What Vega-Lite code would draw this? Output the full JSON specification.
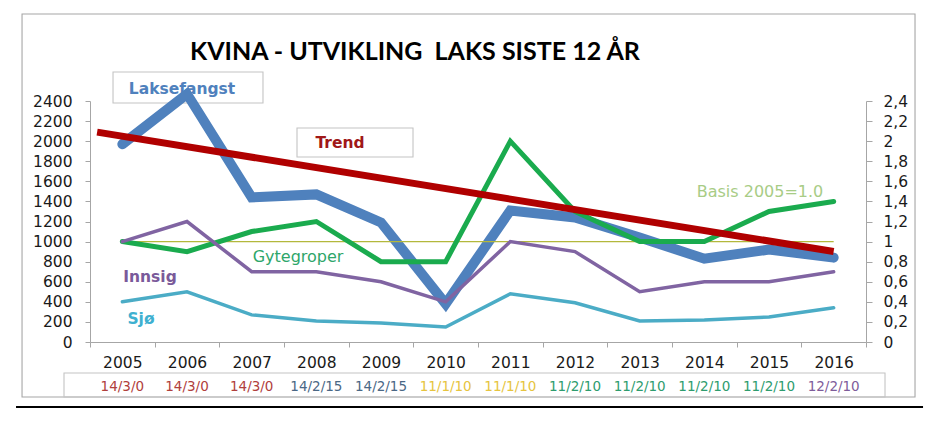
{
  "$schema": "https://vega.github.io/schema/vega-lite/v6.json",
  "width": 776,
  "height": 241,
  "autosize": {"type": "none"},
  "padding": {"left": 90, "top": 101, "right": 79, "bottom": 88},
  "background": "white",
  "title": {"text": "KVINA - UTVIKLING\u00a0 LAKS SISTE 12 ÅR", "font": "Lato", "fontSize": 25, "fontWeight": "bold", "color": "#000000", "anchor": "start", "frame": "group", "dx": 100, "offset": -52},
  "config": {
    "view": {"stroke": null},
    "axis": {"domainColor": "#a6a6a6", "tickColor": "#a6a6a6", "labelColor": "#1a1a1a", "labelFont": "DejaVu Sans", "labelFontSize": 15.5, "grid": false, "tickSize": 5, "labelOverlap": false}
  },
  "datasets": {
    "kvina": [
      {"year": 2005, "Laksefangst": 1970, "Gytegroper": 1.0, "Innsig": 1.0, "Sjo": 0.40, "Basis": 1, "kode": "14/3/0"},
      {"year": 2006, "Laksefangst": 2470, "Gytegroper": 0.9, "Innsig": 1.2, "Sjo": 0.50, "Basis": 1, "kode": "14/3/0"},
      {"year": 2007, "Laksefangst": 1440, "Gytegroper": 1.1, "Innsig": 0.7, "Sjo": 0.27, "Basis": 1, "kode": "14/3/0"},
      {"year": 2008, "Laksefangst": 1470, "Gytegroper": 1.2, "Innsig": 0.7, "Sjo": 0.21, "Basis": 1, "kode": "14/2/15"},
      {"year": 2009, "Laksefangst": 1190, "Gytegroper": 0.8, "Innsig": 0.6, "Sjo": 0.19, "Basis": 1, "kode": "14/2/15"},
      {"year": 2010, "Laksefangst": 380, "Gytegroper": 0.8, "Innsig": 0.4, "Sjo": 0.15, "Basis": 1, "kode": "11/1/10"},
      {"year": 2011, "Laksefangst": 1310, "Gytegroper": 2.0, "Innsig": 1.0, "Sjo": 0.48, "Basis": 1, "kode": "11/1/10"},
      {"year": 2012, "Laksefangst": 1240, "Gytegroper": 1.3, "Innsig": 0.9, "Sjo": 0.39, "Basis": 1, "kode": "11/2/10"},
      {"year": 2013, "Laksefangst": 1040, "Gytegroper": 1.0, "Innsig": 0.5, "Sjo": 0.21, "Basis": 1, "kode": "11/2/10"},
      {"year": 2014, "Laksefangst": 830, "Gytegroper": 1.0, "Innsig": 0.6, "Sjo": 0.22, "Basis": 1, "kode": "11/2/10"},
      {"year": 2015, "Laksefangst": 920, "Gytegroper": 1.3, "Innsig": 0.6, "Sjo": 0.25, "Basis": 1, "kode": "11/2/10"},
      {"year": 2016, "Laksefangst": 840, "Gytegroper": 1.4, "Innsig": 0.7, "Sjo": 0.34, "Basis": 1, "kode": "12/2/10"}
    ],
    "trend": [
      {"year": 2004.61, "Trend": 2090},
      {"year": 2016, "Trend": 901}
    ],
    "notesBold": [
      {"label": "Laksefangst", "year": 2005.923, "value": 2520},
      {"label": "Trend", "year": 2008.366, "value": 1982},
      {"label": "Innsig", "year": 2005.428, "value": 647},
      {"label": "Sjø", "year": 2005.289, "value": 229}
    ],
    "notesPlain": [
      {"label": "Basis 2005=1.0", "year": 2014.861, "value": 1494},
      {"label": "Gytegroper", "year": 2007.717, "value": 846}
    ],
    "boxes": [
      {"box": "chart", "x0": 2003.449, "x1": 2017.258, "y0": 3266, "y1": -548},
      {"box": "table", "x0": 2004.098, "x1": 2016.794, "y0": -309, "y1": -548},
      {"box": "Laksefangst", "x0": 2004.856, "x1": 2007.175, "y0": 2689, "y1": 2380},
      {"box": "Trend", "x0": 2007.701, "x1": 2009.495, "y0": 2131, "y1": 1842}
    ],
    "underline": [
      {"x0": 2003.356, "x1": 2017.382, "y0": -647}
    ]
  },
  "encoding": {
    "x": {
      "field": "year", "type": "quantitative", "title": null,
      "scale": {"domain": [2004.5, 2016.5], "nice": false, "zero": false},
      "axis": {
        "values": [2004.5, 2005.5, 2006.5, 2007.5, 2008.5, 2009.5, 2010.5, 2011.5, 2012.5, 2013.5, 2014.5, 2015.5, 2016.5],
        "labelExpr": "datum.value < 2016 ? format(datum.value + 0.5, 'd') : ''",
        "labelOffset": 32.33, "labelPadding": 8, "labelFlush": false, "labelBound": false
      }
    }
  },
  "layer": [
    {
      "encoding": {
        "y": {"type": "quantitative", "title": null,
          "scale": {"domain": [0, 2400], "nice": false},
          "axis": {"orient": "left", "values": [0, 200, 400, 600, 800, 1000, 1200, 1400, 1600, 1800, 2000, 2200, 2400], "format": "d", "labelPadding": 13}}
      },
      "layer": [
        {
          "data": {"name": "boxes"},
          "mark": {"type": "rect", "fill": "transparent", "strokeWidth": 1.1},
          "encoding": {
            "x": {"field": "x0", "type": "quantitative"},
            "x2": {"field": "x1"},
            "y": {"field": "y0", "type": "quantitative"},
            "y2": {"field": "y1"},
            "stroke": {"field": "box", "type": "nominal", "legend": null,
              "scale": {"domain": ["chart", "table", "Laksefangst", "Trend"], "range": ["#a6a6a6", "#c4c4c4", "#c4c4c4", "#c4c4c4"]}}
          }
        },
        {
          "data": {"name": "underline"},
          "mark": {"type": "rule", "stroke": "#000000", "strokeWidth": 2},
          "encoding": {
            "x": {"field": "x0", "type": "quantitative"},
            "x2": {"field": "x1"},
            "y": {"field": "y0", "type": "quantitative"}
          }
        },
        {
          "data": {"name": "notesBold"},
          "mark": {"type": "text", "font": "DejaVu Sans", "fontWeight": "bold", "fontSize": 15.5, "align": "center", "baseline": "middle"},
          "encoding": {
            "y": {"field": "value", "type": "quantitative"},
            "text": {"field": "label"},
            "color": {"field": "label", "type": "nominal", "legend": null,
              "scale": {"domain": ["Laksefangst", "Trend", "Innsig", "Sjø"], "range": ["#4f81bd", "#a01818", "#7a5a9a", "#3fb0d0"]}}
          }
        },
        {
          "data": {"name": "notesPlain"},
          "mark": {"type": "text", "font": "DejaVu Sans", "fontSize": 16, "align": "center", "baseline": "middle"},
          "encoding": {
            "y": {"field": "value", "type": "quantitative"},
            "text": {"field": "label"},
            "color": {"field": "label", "type": "nominal", "legend": null,
              "scale": {"domain": ["Basis 2005=1.0", "Gytegroper"], "range": ["#a8cc86", "#2ea66a"]}}
          }
        },
        {
          "data": {"name": "kvina"},
          "mark": {"type": "text", "font": "DejaVu Sans", "fontSize": 13.5, "align": "center", "baseline": "middle"},
          "encoding": {
            "y": {"datum": -448, "type": "quantitative"},
            "text": {"field": "kode"},
            "color": {"field": "kode", "type": "nominal", "legend": null,
              "scale": {"domain": ["14/3/0", "14/2/15", "11/1/10", "11/2/10", "12/2/10"], "range": ["#b0403c", "#4a6785", "#e6c440", "#2e9c6e", "#7e5c9a"]}}
          }
        },
        {
          "data": {"name": "kvina"},
          "mark": {"type": "line", "color": "#4f81bd", "strokeWidth": 10, "strokeCap": "round"},
          "encoding": {
            "y": {"field": "Laksefangst", "type": "quantitative"}
          }
        }
      ],
      "resolve": {"scale": {"color": "independent"}}
    },
    {
      "data": {"name": "kvina"},
      "layer": [
        {
          "mark": {"type": "line", "color": "#b3b83c", "strokeWidth": 1.3},
          "encoding": {"y": {"field": "Basis", "type": "quantitative"}}
        },
        {
          "mark": {"type": "line", "color": "#1aab4e", "strokeWidth": 5, "strokeCap": "round"},
          "encoding": {"y": {"field": "Gytegroper", "type": "quantitative"}}
        },
        {
          "mark": {"type": "line", "color": "#8064a2", "strokeWidth": 3.5, "strokeCap": "round"},
          "encoding": {"y": {"field": "Innsig", "type": "quantitative"}}
        },
        {
          "mark": {"type": "line", "color": "#4bacc6", "strokeWidth": 3.5, "strokeCap": "round"},
          "encoding": {"y": {"field": "Sjo", "type": "quantitative"}}
        }
      ],
      "encoding": {
        "y": {"type": "quantitative", "title": null,
          "scale": {"domain": [0, 2.4], "nice": false},
          "axis": {"orient": "right", "values": [0, 0.2, 0.4, 0.6, 0.8, 1, 1.2, 1.4, 1.6, 1.8, 2, 2.2, 2.4],
            "labelExpr": "replace(format(datum.value, '.1~f'), '.', ',')", "labelPadding": 11, "tickSize": 6}}
      }
    },
    {
      "data": {"name": "trend"},
      "mark": {"type": "line", "color": "#b00000", "strokeWidth": 7},
      "encoding": {
        "y": {"field": "Trend", "type": "quantitative", "title": null, "axis": null,
          "scale": {"domain": [0, 2400], "nice": false}}
      }
    }
  ],
  "resolve": {"scale": {"y": "independent"}, "axis": {"y": "independent"}}
}
